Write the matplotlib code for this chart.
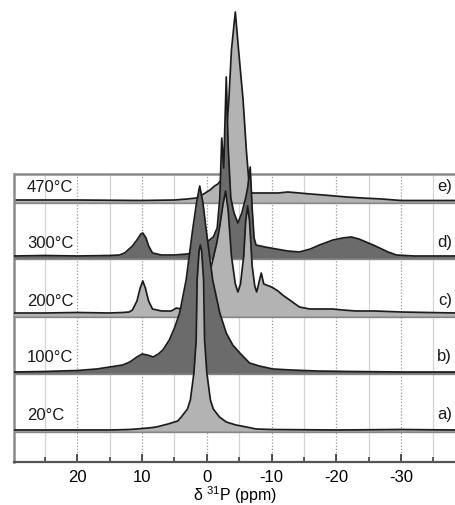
import matplotlib.pyplot as plt

plt.rcParams['font.family'] = ['Liberation Sans', 'DejaVu Sans']
plt.rcParams['mathtext.fontset'] = 'custom'
plt.rcParams['mathtext.rm'] = 'Liberation Sans'

# temperatures, panel tags and vertical offsets of the stacked spectra
labels = ['20°C', '100°C', '200°C', '300°C', '470°C']
tags = ['a)', 'b)', 'c)', 'd)', 'e)']
offsets = [0, 58, 115, 173, 229]

# spectra: chemical shift (ppm) and intensity
ppm_a = [29.8, 20, 15, 12, 10.9, 9, 7.8, 6, 4.5, 3.95, 3.0, 2.55, 2.0, 1.65,
         1.5, 1.2, 1.0, 0.8, 0.5, 0.35, 0.0, -0.55, -1.0, -1.95, -3.0, -4.5,
         -6.1, -7.6, -10, -20, -30, -38.5]
int_a = [1, 1, 1, 1.5, 2, 3, 4, 7, 10, 14, 22, 31, 58, 91,
         151, 180, 186, 180, 151, 91, 58, 31, 22, 14, 9, 6,
         4, 2, 1.5, 1, 1.5, 1]

ppm_b = [29.8, 25, 20, 17, 15, 13, 11.9, 10.8, 10.0, 9.2, 8.3, 7.5, 6.8, 5.8,
         5.0, 4.2, 3.2, 2.2, 1.6, 1.1, 0.6, 0.1, -0.9, -2.0, -3.0, -4.0, -5.1,
         -6.6, -8.1, -10.2, -13, -17, -22, -30, -38.5]
int_b = [1, 1.5, 2.5, 4, 6, 8, 11, 16, 19, 18, 16, 19, 23, 33,
         45, 60, 93, 143, 170, 187, 170, 143, 93, 60, 40, 28, 20,
         10, 7, 4, 3, 2, 1.5, 1, 1]

ppm_c = [29.8, 25, 20, 15, 13, 12, 11.5, 10.8, 10.3, 9.9, 9.5, 9.0, 8.4, 7,
         5.5, 4.7, 4.0, 3.0, 2.0, 1.0, 0.0, -0.7, -1.5, -2.0, -2.5, -2.9, -3.3,
         -3.8, -4.4, -4.8, -5.2, -5.7, -6.0, -6.3, -6.6, -7.0, -7.4, -7.7, -8.0,
         -8.4, -8.8, -9.2, -10, -11, -11.7, -12.8, -14.3, -15.9, -17.5, -19.4,
         -21, -23, -26, -30, -34, -38.5]
int_c = [3, 3, 3.5, 3, 3.5, 4, 6, 15, 28, 35, 28, 15, 7, 5,
         5, 8, 7, 12, 18, 25, 32, 50, 72, 90, 112, 125, 105,
         60, 32, 24, 32, 60, 95, 110, 95, 50, 30, 24, 32,
         43, 32, 31, 29, 25, 21, 16, 9, 7, 7, 7,
         6, 5, 5, 4, 3.5, 3]

ppm_d = [29.8, 25, 20, 15, 13.5, 12.7, 11.5, 10.8, 10.2, 9.9, 9.4, 9.0, 8.4,
         7, 5, 3, 2, 1, 0, -1, -1.6, -2.0, -2.3, -2.6, -3.0, -3.3, -3.7, -4.2,
         -4.8, -5.4, -6.0, -6.3, -6.7, -7.0, -7.3, -7.6, -9, -10.7, -12.5,
         -14.3, -16, -17.4, -19.5, -21, -22.3, -23.5, -24.6, -25.7, -26.7, -28,
         -29.3, -32, -35, -38.5]
int_d = [2, 2.5, 2, 2.5, 3, 5, 12, 18, 24, 25, 20, 12, 5,
         3, 3, 4, 6, 10, 16, 21, 30, 60, 120, 90, 181, 110, 60, 45,
         35, 45, 60, 70, 91, 50, 20, 13, 11, 9, 7,
         6, 9, 13, 18, 20, 21, 19, 16, 13, 10, 6,
         3, 2, 2, 2]

ppm_e = [29.8, 20, 10, 5, 3, 1.6, 0.5, -0.5, -1.2, -1.7, -2.2, -2.8, -3.4,
         -3.8, -4.4, -4.9, -5.6, -6.1, -6.6, -7.0, -9, -11, -12.5, -14.3, -16,
         -18, -21.6, -24, -27, -30, -34, -38.5]
int_e = [2, 2, 1.5, 2, 3, 4, 8, 12, 16, 18, 22, 52, 102,
         152, 190, 152, 102, 52, 12, 9, 9, 9, 10, 9, 8,
         7, 5, 4, 3, 1.5, 1.5, 1.5]

spectra = [(ppm_a, int_a), (ppm_b, int_b), (ppm_c, int_c),
           (ppm_d, int_d), (ppm_e, int_e)]
fills = ['#b3b3b3', '#6b6b6b', '#b3b3b3', '#6b6b6b', '#b3b3b3']

x_left, x_right = 29.8, -38.5
y_bottom, y_top = -31, 257

fig = plt.figure(figsize=(4.56, 5.05), dpi=100)
ax = fig.add_axes([14 / 456, 43 / 505, 442 / 456, 462 / 505])
ax.set_xlim(x_left, x_right)
ax.set_ylim(-31, 431)

# grid: dotted at labelled ticks, solid light at the half steps
major = [20, 10, 0, -10, -20, -30]
minor = [25, 15, 5, -5, -15, -25, -35]
ax.vlines(major, y_bottom, y_top, colors='#9a9a9a', lw=0.9,
          linestyles=(0, (1, 1.5)), zorder=0.5)
ax.vlines(minor, y_bottom, y_top, colors='#d4d4d4', lw=0.9, zorder=0.5)
ax.hlines(y_top, x_left, x_right, colors='#8a8a8a', lw=1.8, zorder=1)

# spectra, top one first so that lower ones lie in front
for i in range(4, -1, -1):
    ppm, inten = spectra[i]
    off = offsets[i]
    z = 6 - i
    y = [off + v for v in inten]
    ax.hlines(off, x_left, x_right, colors='#858585', lw=2.4, zorder=z - 0.2)
    ax.fill_between(ppm, off, y, color=fills[i], lw=0, zorder=z)
    ax.plot(ppm, y, color='#1c1c1c', lw=1.25, zorder=z + 0.1)
    ax.text(27.8, off + 15, labels[i], ha='left', va='center',
            fontsize=12, color='#1a1a1a', zorder=8)
    ax.text(-37.9, off + 16, tags[i], ha='right', va='center',
            fontsize=12, color='#1a1a1a', zorder=8)

for side in ['top', 'right']:
    ax.spines[side].set_visible(False)
ax.spines['left'].set_bounds(y_bottom, y_top)
ax.spines['left'].set_color('#8a8a8a')
ax.spines['left'].set_linewidth(1.8)
ax.spines['bottom'].set_color('#555555')
ax.spines['bottom'].set_linewidth(1.6)

ax.set_xticks(major)
ax.set_xticklabels(['20', '10', '0', '-10', '-20', '-30'])
ax.set_xticks(minor, minor=True)
ax.set_yticks([])
ax.tick_params(axis='x', which='major', direction='in', length=6, width=1.2,
               color='#333333', labelsize=12, pad=6)
ax.tick_params(axis='x', which='minor', direction='in', length=3.5,
               width=1.1, color='#333333')
ax.set_xlabel('δ $^{31}$P (ppm)', fontsize=11.5, labelpad=-1)

fig.savefig('out.png', dpi=100)
